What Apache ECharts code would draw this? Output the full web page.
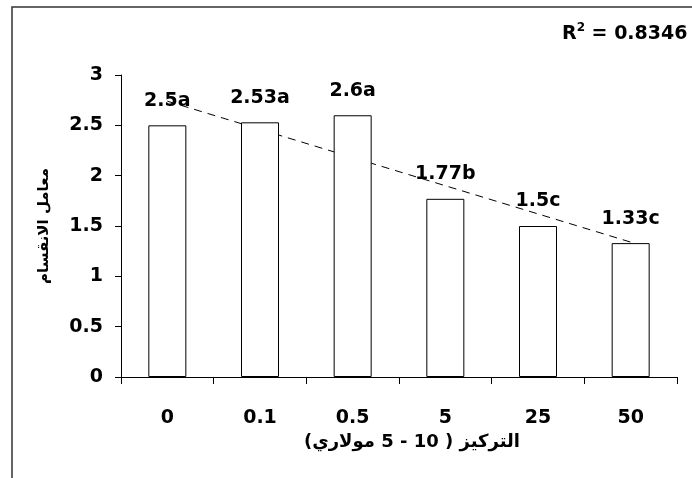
<!DOCTYPE html>
<html>
<head>
<meta charset="utf-8">
<script src="https://cdn.jsdelivr.net/npm/echarts@6/dist/echarts.min.js"></script>
<style>
html,body{margin:0;padding:0;background:#fff;}
#chart{width:692px;height:478px;}
</style>
</head>
<body>
<div id="chart"></div>
<script>
const categories = ['0', '0.1', '0.5', '5', '25', '50'];
const values = [2.5, 2.53, 2.6, 1.77, 1.5, 1.33];
const letters = ['a', 'a', 'a', 'b', 'c', 'c'];
const trendEnds = [2.74, 1.34];
const yTicks = [0, 0.5, 1, 1.5, 2, 2.5, 3];
const xTitle = 'التركيز ( 10 - 5 مولاري)';
const yTitle = 'معامل الانقسام';
const rSquared = '0.8346';

const FONT = "'DejaVu Sans', 'Liberation Sans', Arial, sans-serif";
const trendData = categories.map((c, i) => i === 0 ? trendEnds[0] : (i === categories.length - 1 ? trendEnds[1] : null));

const chart = echarts.init(document.getElementById('chart'), null, {renderer: 'canvas'});
chart.setOption({
  animation: false,
  backgroundColor: '#fff',
  textStyle: {fontFamily: FONT},
  grid: {left: 121, right: 15, top: 75, bottom: 101, containLabel: false},
  graphic: [
    {type: 'polyline', silent: true, shape: {points: [[12, 500], [12, 7], [700, 7]]},
     style: {stroke: '#333', lineWidth: 1.5, fill: null}}
  ],
  title: {
    left: 557, top: 17,
    text: '{r|R}{s|2}{r| = ' + rSquared + '}',
    textStyle: {
      rich: {
        r: {fontFamily: FONT, fontWeight: 'bold', fontSize: 19, color: '#000', verticalAlign: 'bottom', lineHeight: 22},
        s: {fontFamily: FONT, fontWeight: 'bold', fontSize: 12, color: '#000', verticalAlign: 'top', lineHeight: 22, padding: [0, 0, 8, 0]}
      }
    }
  },
  xAxis: {
    type: 'category',
    data: categories,
    boundaryGap: true,
    axisLine: {lineStyle: {color: '#000', width: 1}},
    axisTick: {show: true, length: 7, alignWithLabel: false, lineStyle: {color: '#000'}},
    axisLabel: {margin: 32, fontFamily: FONT, fontWeight: 'bold', fontSize: 19, color: '#000'},
    name: xTitle,
    nameLocation: 'middle',
    nameGap: 54,
    nameTextStyle: {fontFamily: FONT, fontWeight: 'bold', fontSize: 18, color: '#000', padding: [0, 0, 0, 26]}
  },
  yAxis: {
    type: 'value',
    min: yTicks[0], max: yTicks[yTicks.length - 1], interval: 0.5,
    splitLine: {show: false},
    axisLine: {show: true, lineStyle: {color: '#000', width: 1}},
    axisTick: {show: true, length: 6, lineStyle: {color: '#000'}},
    axisLabel: {margin: 18, fontFamily: FONT, fontWeight: 'bold', fontSize: 19, color: '#000'},
    name: yTitle,
    nameLocation: 'middle',
    nameRotate: 90,
    nameGap: 69,
    nameTextStyle: {fontFamily: FONT, fontWeight: 'bold', fontSize: 15, color: '#000'}
  },
  series: [
    {
      type: 'bar',
      data: values,
      barWidth: 38,
      itemStyle: {color: '#fff', borderColor: '#000', borderWidth: 1},
      label: {
        show: true, position: 'top', distance: 15,
        fontFamily: FONT, fontWeight: 'bold', fontSize: 19, color: '#000',
        formatter: p => p.value + letters[p.dataIndex]
      },
      z: 2
    },
    {
      type: 'line',
      data: trendData,
      connectNulls: true,
      symbol: 'none',
      lineStyle: {color: '#000', width: 1, type: [8, 6]},
      z: 1
    }
  ]
});
</script>
</body>
</html>
